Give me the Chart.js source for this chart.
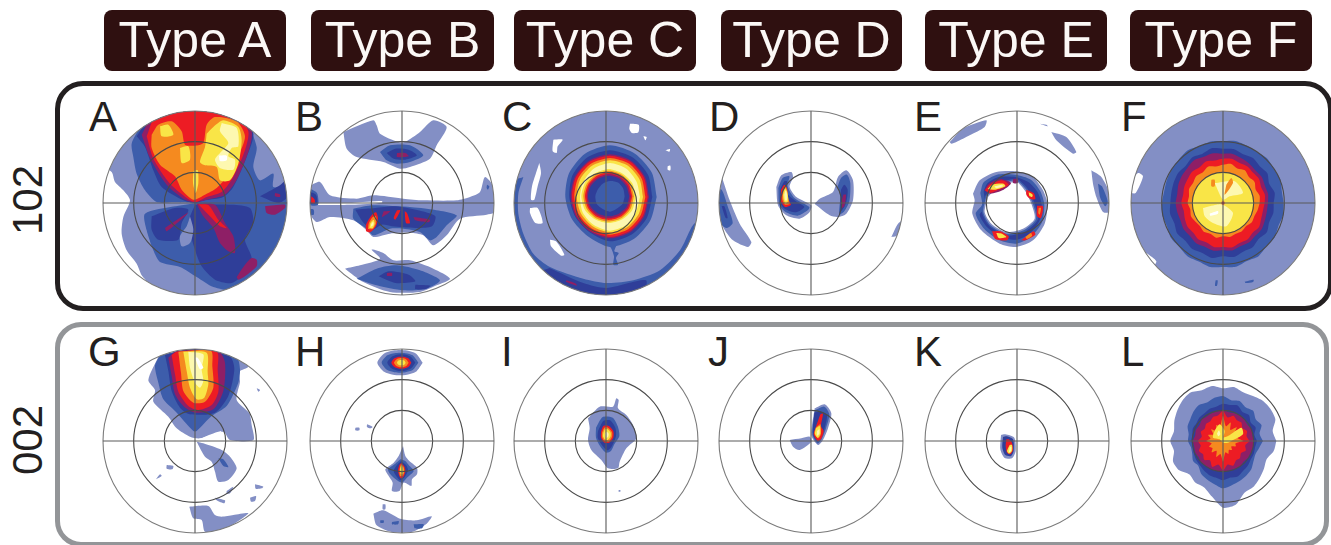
<!DOCTYPE html>
<html>
<head>
<meta charset="utf-8">
<title>Pole figures</title>
<script src="https://cdn.jsdelivr.net/npm/chart.js@4"></script>
<style>
html, body { margin: 0; padding: 0; background: #fff; overflow: hidden; }
#page { position: relative; width: 1331px; height: 545px; overflow: hidden; font-family: "Liberation Sans", Arial, sans-serif; }
.head { position: absolute; top: 10px; height: 61px; line-height: 60px; background: #2f1010; color: #fbf8f6; border-radius: 8px; font-size: 50px; text-align: center; white-space: nowrap; }
.frame { position: absolute; box-sizing: border-box; background: transparent; }
#frame102 { left: 55px; top: 81px; width: 1278px; height: 230px; border: 5px solid #231f20; border-radius: 28px; }
#frame002 { left: 55px; top: 322px; width: 1274px; height: 225px; border: 5px solid #939598; border-radius: 26px; }
.letter { position: absolute; font-size: 42px; line-height: 42px; color: #231f20; }
.row { position: absolute; font-size: 42px; line-height: 42px; color: #231f20; transform: translate(-50%, -50%) rotate(-90deg); }
canvas { position: absolute; filter: blur(0.4px); }
</style>
</head>
<body>
<div id="page">
  <div id="frame102" class="frame"></div>
  <div id="frame002" class="frame"></div>
</div>
<script>
// --- Labels ---
const typeNames = ['Type A', 'Type B', 'Type C', 'Type D', 'Type E', 'Type F'];
const rowNames = ['102', '002'];
const panelLetters = ['A', 'B', 'C', 'D', 'E', 'F', 'G', 'H', 'I', 'J', 'K', 'L'];

// Intensity levels, 0 is blank and 9 the strongest
const levelColors = ['#ffffff', '#838fc5', '#3d5dab', '#2f3e99', '#8e1f66', '#ed1c24', '#f58a1f', '#f9e547', '#fdf8b0', '#ffffff'];

// Radius of the three grid rings, in figure units
const ringRadii = [92, 184, 276];
const disc = [-288, -288, 288, -288, 288, 288, -288, 288];

function ring(cx, cy, radii) {
    const pts = [];
    radii.forEach((r, i) => {
        const a = i / radii.length * Math.PI * 2;
        pts.push(cx + r * Math.cos(a), cy + r * Math.sin(a));
    });
    return pts;
}

// --- Contours, each [level, x,y list] and painted in order ---
const panelA = [
    [1, [288,288, 288,-288, -145,-288, -145,-237, -160,-217, -175,-182, -205,-142, -220,-92, -215,-42, -195,8, -215,38, -240,63, -250,93, -288,120, -288,288]],
    [2, [-165,228, -190,178, -185,138, -175,88, -150,38, -115,3, -60,3, 0,0, -60,-10, -150,-32, -145,-82, -125,-142, -105,-177, -45,-192, 5,-222, 55,-252, 125,-262, 288,-200, 288,48, 235,48, 235,88, 195,68, 175,108, 185,168, 155,238, 90,280, -90,280]],
    [3, [0,-5, 110,-5, 165,-15, 175,-60, 150,-110, 170,-165, 150,-210, 110,-240, 60,-230, 20,-190, 0,-140, -20,-60]],
    [3, [-130,-40, -60,-15, -20,-20, -40,-60, -50,-110, -110,-110, -130,-80]],
    [3, [195,20, 250,50, 278,70, 278,20, 250,0]],
    [1, [-15,-40, -5,-80, -15,-120, -40,-130, -45,-100, -25,-70]],
    [4, [5,-2, 60,-5, 90,-60, 115,-100, 120,-150, 100,-145, 75,-120, 55,-75, 25,-40]],
    [5, [10,-4, 40,-6, 70,-50, 95,-75, 75,-70, 45,-40]],
    [4, [125,-222, 150,-185, 170,-165, 185,-170, 185,-190, 150,-220, 130,-230]],
    [4, [210,-10, 270,-5, 270,-15, 240,-35, 215,-30]],
    [4, [240,30, 255,26, 255,18, 240,20]],
    [4, [-90,-75, -20,-28, -25,-35, -85,-85]],
    [3, [-175,200, -150,168, -125,98, -100,48, -35,8, 0,0, 30,8, 85,18, 115,48, 155,138, 175,208, 135,270, 0,290, -120,275]],
    [4, [-160,205, -135,135, -85,55, -30,10, 0,2, 35,10, 90,25, 125,70, 162,160, 170,215, 130,265, 0,282, -120,270]],
    [5, [-145,200, -125,133, -75,58, -15,8, 3,3, 35,18, 80,33, 115,78, 150,158, 160,215, 125,260, 5,280, -115,265]],
    [6, [-130,205, -130,165, -105,115, -60,80, -40,40, -5,10, 30,25, 65,45, 100,85, 130,140, 150,200, 125,245, 60,258, 35,235, 25,180, 0,172, -30,175, -40,215, -70,245, -110,235]],
    [7, [35,208, 30,168, 15,123, 30,113, 65,108, 75,68, 105,68, 130,118, 140,188, 130,228, 85,248, 55,228]],
    [7, [-45,165, -20,170, -15,130, -40,120]],
    [7, [-105,230, -80,235, -65,205, -100,200]],
    [7, [-5,95, 8,98, 10,60, 2,30, -6,60]],
    [8, [80,240, 125,225, 130,170, 110,165, 100,140, 120,130, 115,100, 75,105, 60,130, 75,150, 100,180, 75,215]],
    [9, [72,142, 95,142, 95,128, 75,126]],
];

const panelB = [
    [1, [-176,213, -86,248, -76,233, -66,208, -11,183, 9,183, 54,213, 94,248, 134,228, 104,173, 84,133, 24,108, -6,103, -56,123, -136,138, -166,163]],
    [2, [-66,153, -36,173, 24,173, 64,143, 24,123, -16,118, -46,128]],
    [3, [-46,150, -20,163, 20,160, 45,143, 10,130, -25,133]],
    [4, [-15,150, 10,150, 20,140, -15,138]],
    [1, [-171,-197, -126,-187, -66,-167, -91,-140, -56,-150, -26,-172, 24,-172, 94,-197, 144,-227, 104,-247, 54,-267, -36,-267, -116,-237]],
    [2, [-136,-227, -76,-197, -16,-187, 54,-202, 114,-232, 74,-257, 4,-262, -76,-247]],
    [3, [-70,-220, -40,-205, 20,-215, 40,-235, -20,-240]],
    [3, [40,-245, 85,-248, 70,-258, 40,-258]],
    [4, [-45,-210, -30,-210, -30,-218, -45,-218]],
    [1, [-274,53, -246,63, -216,23, -136,13, -86,23, 4,13, 64,8, 164,8, 204,18, 234,33, 249,78, 278,43, 278,-27, 254,-35, 174,-47, 134,-97, 94,-127, 64,-97, 24,-89, -36,-92, -86,-102, -106,-82, -146,-52, -216,-42, -256,-57, -278,-27]],
    [0, [-278,1, -150,1, -60,6, -60,1, -150,-5, -278,-5]],
    [2, [-146,-17, -86,-7, 74,-17, 164,-37, 134,-67, 104,-102, 84,-112, 54,-87, 4,-77, -36,-77, -86,-97, -106,-77, -146,-47]],
    [3, [-140,-20, -80,-15, -20,-10, 60,-25, 100,-40, 90,-70, 40,-75, -30,-70, -60,-65, -90,-80, -115,-60]],
    [4, [34,-42, 84,-50, 80,-58, 40,-52]],
    [4, [-55,-25, -35,-25, -60,-42]],
    [5, [-15,-22, -5,-22, -20,-50, -25,-45]],
    [5, [8,-25, 15,-30, 24,-60, 12,-60]],
    [5, [-108,-85, -108,-65, -90,-35, -78,-28, -72,-45, -78,-70, -95,-88]],
    [6, [-102,-78, -100,-62, -88,-42, -78,-40, -78,-62, -88,-78]],
    [7, [-98,-75, -95,-60, -85,-50, -82,-62, -88,-75]],
    [8, [-94,-72, -92,-62, -86,-56, -86,-66]],
    [2, [-278,45, -255,30, -252,-5, -278,-5]],
    [3, [-278,35, -258,25, -255,0, -278,0]],
    [5, [-272,20, -262,10, -262,0, -272,0]],
    [2, [-278,-18, -265,-20, -265,-35, -278,-35]],
    [2, [255,55, 262,50, 258,40, 254,45]],
];

const panelC = [
    [1, disc],
    [0, [72,238, 98,235, 97,212, 78,210, 70,222]],
    [0, [112,200, 122,198, 118,188]],
    [0, [178,158, 192,162, 190,154]],
    [0, [185,110, 193,112, 193,98, 185,100]],
    [0, [-158,190, -130,190, -145,170, -148,150, -160,155]],
    [0, [-200,120, -195,90, -205,50, -215,10, -225,10, -222,50, -210,90]],
    [0, [-228,-15, -205,-15, -190,-60, -212,-60, -228,-30]],
    [0, [-168,-110, -150,-115, -125,-155, -135,-158, -165,-130]],
    [2, [-248,78, -263,28, -263,-32, -248,-92, -218,-152, -168,-192, -68,-227, 2,-240, 82,-232, 162,-202, 222,-142, 257,-72, 272,-57, 288,-100, 288,-288, -288,-288, -288,60]],
    [3, [-170,-195, -68,-240, 2,-255, 120,-232, 100,-288, -60,-288, -200,-210]],
    [4, [-118,-232, -90,-242, -88,-248, -120,-236]],
    [2, ring(12, 18, [140,145,150,155,150,142,134,132,135,150,145,140])],
    [2, [35,-120, 25,-145, 38,-150, 30,-165, 36,-185, 22,-185, 24,-160, 15,-135, 5,-120]],
    [3, ring(12, 18, [127,132,137,140,137,130,122,120,122,133,130,127])],
    [4, ring(12, 18, [117,121,126,128,126,122,118,118,120,124,122,118])],
    [5, ring(12, 18, [113,117,122,124,122,118,114,114,116,120,118,114])],
    [6, ring(12, 18, [106,110,115,117,115,111,107,107,109,113,111,107])],
    [7, ring(12, 18, [99,103,108,110,108,104,100,100,102,106,104,100])],
    [8, ring(12, 18, [90,92,98,102,98,92,90,94,97,101,97,90])],
    [7, ring(8, 20, [82,81,80,82,80,82,82,82,80,80,80,82])],
    [6, ring(8, 20, [76,76,76,77,76,76,76,76,76,76,76,76])],
    [5, ring(8, 20, [71,71,71,72,71,71,71,71,71,71,71,71])],
    [4, ring(8, 20, [67,66,67,67,66,67,66,67,66,66,66,67])],
    [3, ring(8, 20, [62,61,62,62,61,62,62,62,60,60,60,62])],
    [2, ring(12, 20, [44,46,48,46,44,42,44,46,44,46,42,44])],
];

const panelD = [
    [1, [-269,83, -244,8, -214,-62, -179,-117, -189,-132, -234,-112, -264,-72, -288,-2, -288,80]],
    [2, [-288,40, -268,40, -250,-10, -235,-60, -255,-75, -288,-40]],
    [3, [-268,-10, -260,-10, -250,-45, -256,-45]],
    [1, [241,-102, 261,-62, 278,-52, 278,-80, 255,-100]],
    [1, [-104,48, -89,83, -59,93, -54,78, -64,48, -44,18, 1,-7, -4,-27, -34,-47, -74,-37, -99,-7]],
    [2, [-98,45, -85,75, -65,80, -70,50, -50,15, -5,-12, -10,-22, -40,-38, -75,-28, -95,-5]],
    [3, [-92,42, -80,65, -72,65, -72,30, -45,5, -20,-12, -45,-28, -78,-18, -92,0]],
    [5, [-90,40, -80,55, -72,45, -68,10, -60,-5, -78,-12, -90,5]],
    [6, [-85,35, -78,52, -72,40, -68,12, -64,-3, -78,-5, -86,10]],
    [7, [-84,25, -78,45, -72,35, -68,8, -76,-2, -82,10]],
    [8, [-80,25, -76,38, -72,28, -72,8, -78,8]],
    [1, [11,-2, 26,13, 66,33, 81,78, 106,98, 126,68, 126,8, 106,-32, 81,-42, 56,-37, 16,-7]],
    [2, [80,50, 90,75, 108,85, 118,60, 115,5, 100,-25, 85,-35, 86,-5, 88,20]],
    [3, [90,40, 100,55, 110,40, 105,0, 90,-25, 88,0]],
    [4, [97,25, 105,25, 100,-10, 93,-15, 92,5]],
];

const panelE = [
    [1, [-202,183, -162,223, -92,248, -97,228, -142,203, -182,183, -197,178]],
    [1, [68,238, 93,230, 88,235]],
    [1, [103,213, 148,198, 178,153, 168,148, 118,188]],
    [1, [223,98, 253,78, 278,28, 278,-27, 258,-27, 238,18, 228,58]],
    [2, [243,58, 255,50, 272,5, 265,-10, 250,15]],
    [1, [-132,28, -112,68, -62,93, -2,95, 48,78, 78,38, 91,-2, 83,-62, 48,-112, -2,-132, -52,-122, -107,-82, -134,-32, -127,8]],
    [2, [-110,30, -100,62, -60,85, -5,85, 42,70, 70,35, 82,-5, 75,-58, 42,-102, -2,-122, -52,-112, -98,-78, -124,-32, -105,-5]],
    [3, [-100,35, -90,58, -55,78, -5,78, 35,62, 62,32, 74,-5, 68,-52, 38,-92, -2,-110, -50,-102, -90,-72, -112,-35, -95,-15]],
    [2, [-95,22, -60,58, -2,72, 30,45, 52,0, 62,-50, 22,-87, -32,-97, -82,-70, -105,-28]],
    [1, [-92,20, -59,53, -2,67, 27,41, 47,-1, 57,-48, 20,-82, -32,-92, -80,-66, -101,-27]],
    [0, [-87,18, -57,48, -2,63, 23,38, 43,-2, 53,-47, 18,-77, -32,-87, -77,-62, -97,-27]],
    [4, [-98,38, -85,58, -50,72, -18,60, -40,40, -80,28]],
    [5, [-96,38, -82,55, -45,68, -25,55, -50,42, -82,30]],
    [7, [-88,42, -75,55, -40,58, -35,50, -65,40]],
    [8, [-68,50, -45,55, -42,50, -62,44]],
    [5, [28,40, 50,30, 55,12, 40,12, 28,25]],
    [7, [35,32, 47,25, 45,18, 37,22]],
    [5, [60,-8, 78,-10, 72,-45, 60,-40]],
    [6, [65,-15, 72,-15, 68,-35, 64,-30]],
    [5, [-75,-85, -50,-85, -25,-100, -30,-112, -65,-108]],
    [7, [-62,-90, -45,-92, -32,-102, -55,-105]],
    [5, [13,-112, 50,-85, 55,-95, 25,-112]],
    [6, [25,-102, 42,-90, 45,-98, 30,-108]],
    [4, [-12,72, 2,72, 2,60, -12,60]],
];

const panelF = [
    [1, disc],
    [0, [-278,30, -262,30, -240,80, -255,90, -278,60]],
    [0, [-230,-150, -200,-175, -215,-195, -240,-170]],
    [2, [-22,-232, -16,-232, -18,-248, -24,-248]],
    [2, [65,-236, 92,-230, 90,-237, 68,-240]],
    [2, ring(0, 0, [182,180,186,184,188,184,186,190,186,188,184,190,186,184,182,180,183,186,182,188,186,192,190,196,192,195,188,192,184,186,180,184])],
    [3, ring(0, 0, [152,158,150,160,156,162,158,165,163,168,160,165,158,162,160,158,158,162,158,165,160,166,162,168,160,165,158,160,152,158,150,154])],
    [4, ring(0, 0, [135,138,136,140,138,142,145,150,148,152,150,155,150,148,145,140,142,140,138,142,140,145,142,146,142,145,140,142,138,140,136,134])],
    [5, ring(0, 0, [125,128,124,130,128,132,130,135,133,130,135,128,132,128,126,122,125,120,124,128,126,132,128,135,132,136,130,132,126,130,124,122])],
    [6, ring(0, 0, [110,112,106,114,110,118,112,120,115,112,118,110,114,108,110,104,106,100,104,100,98,104,100,106,100,104,100,102,98,104,102,106])],
    [7, ring(0, 0, [92,92,91,92,92,92,91,92,92,91,92,92])],
    [8, [-60,-15, -20,-5, 0,-5, 30,-30, 10,-70, -30,-60, -55,-40]],
    [8, [-25,60, 0,10, 20,20, 60,30, 35,65]],
    [9, [-40,-32, -15,-24, -15,-32, -38,-38]],
    [6, [-35,70, -25,70, -25,50, -35,50]],
    [6, [10,55, 25,75, 30,60, 5,25]],
    [5, [-4,4, 4,4, 4,-4, -4,-4]],
];

const panelG = [
    [1, [-110,253, -140,183, -120,153, -125,118, -80,73, -55,38, -15,13, 15,8, 85,28, 105,3, 175,3, 170,48, 163,83, 125,123, 135,178, 133,208, 160,223, 115,253, 0,278]],
    [1, [5,-2, 30,-47, 50,-62, 60,-92, 70,-122, 100,-117, 125,-82, 105,-47, 80,-27, 25,-7]],
    [1, [-17,-197, 40,-195, 60,-222, 80,-227, 115,-222, 160,-217, 105,-257, 85,-267, 30,-272, 20,-237, -5,-232]],
    [1, [-85,-72, -65,-75, -68,-85, -85,-83]],
    [1, [-117,-115, -100,-105, -105,-100, -115,-112]],
    [1, [180,-130, 205,-137, 200,-142, 182,-143]],
    [1, [165,-170, 183,-165, 180,-180, 168,-182]],
    [1, [95,-150, 115,-137, 105,-157, 95,-158]],
    [1, [60,-170, 90,-178, 88,-187, 65,-178]],
    [1, [185,158, 195,153, 190,148]],
    [2, [70,-52, 85,-55, 100,-78, 85,-75]],
    [2, [-105,258, -120,225, -110,175, -95,125, -60,90, -5,30, 5,30, 50,75, 95,105, 130,175, 135,215, 125,250, 0,276]],
    [0, [10,5, 60,25, 80,30, 55,10, 20,3]],
    [3, [-90,258, -80,210, -70,150, -45,100, -15,80, 60,85, 100,135, 118,215, 105,253, 0,276]],
    [4, [-80,250, -70,195, -60,140, -35,105, 0,85, 55,95, 85,150, 90,235, 70,270, -55,270]],
    [5, [-70,258, -60,200, -50,148, -20,105, 10,93, 50,108, 70,148, 68,215, 65,268, -55,268]],
    [6, [-50,268, -42,205, -35,150, -5,115, 30,118, 55,160, 52,225, 48,270]],
    [7, [-35,268, -25,210, -15,160, 5,125, 28,130, 40,170, 38,205, 35,265]],
    [8, [-20,268, -15,220, 0,175, 15,160, 25,180, 20,215, 25,260]],
    [9, [0,250, 8,250, 25,220, 15,215]],
];

const panelH = [
    [1, ring(-6, 235, [68,55,42,38,42,55,68,55,42,38,42,55])],
    [2, ring(-6, 235, [55,44,33,30,33,44,55,44,33,30,33,44])],
    [3, ring(-2, 235, [42,34,27,25,27,34,42,34,27,25,27,34])],
    [5, ring(-2, 235, [30,25,20,18,20,25,30,25,20,18,20,25])],
    [6, ring(-2, 235, [22,18,15,14,15,18,22,18,15,14,15,18])],
    [7, ring(-2, 235, [13,11,9,8,9,11,13,11,9,8,9,11])],
    [1, [3,-15, 10,-45, 22,-60, 45,-80, 45,-100, 30,-115, 28,-135, 5,-125, -8,-150, -30,-150, -28,-125, -40,-105, -50,-85, -25,-65, -10,-45]],
    [2, [-5,-55, 10,-60, 20,-72, 35,-90, 15,-110, 0,-125, -15,-118, -35,-100, -42,-85, -20,-68]],
    [3, [-3,-60, 12,-72, 18,-88, 8,-108, -5,-118, -15,-108, -25,-90, -15,-72]],
    [5, [-2,-65, 8,-78, 10,-92, 4,-108, -4,-112, -10,-100, -12,-88, -8,-72]],
    [6, [-3,-68, 5,-78, 7,-92, 2,-105, -6,-105, -8,-88]],
    [7, [-2,-72, 3,-80, 4,-95, 0,-100, -4,-98, -6,-85]],
    [1, [-86,-218, -56,-208, -6,-233, 44,-238, 89,-226, 74,-248, 29,-273, -31,-273, -76,-253]],
    [2, [-65,-238, -55,-238, -55,-245, -65,-245]],
    [2, [-30,-243, -10,-240, -12,-250, -30,-250]],
    [2, [35,-250, 65,-250, 60,-262, 38,-262]],
    [1, [-58,-190, -50,-190, -50,-205, -58,-205]],
    [1, [-140,40, -128,40, -128,32, -140,32]],
    [1, [-105,50, -88,42, -95,38, -105,42]],
];

const panelI = [
    [1, [-54,68, -19,103, 21,103, 31,128, 38,123, 36,98, 61,78, 81,48, 91,8, 61,-22, 41,-62, 36,-82, 6,-82, -14,-57, -44,-27, -54,3, -49,38]],
    [1, [38,-147, 43,-147, 43,-152, 38,-152]],
    [2, [-30,40, -10,72, 20,70, 35,45, 40,15, 25,-10, 15,-30, 0,-35, -18,-15, -30,10]],
    [3, [-24,30, -8,60, 12,62, 28,40, 30,15, 18,-15, 5,-28, -10,-15, -25,10]],
    [5, [-15,28, -8,45, 8,45, 22,30, 22,10, 10,-5, -5,-5, -15,10]],
    [6, [-12,25, -5,40, 6,40, 18,27, 18,12, 8,-2, -5,0, -12,12]],
    [7, [-8,25, -3,35, 5,35, 14,25, 13,12, 5,3, -4,5, -9,14]],
    [8, [-3,22, 2,28, 8,22, 6,12, 0,10]],
];

const panelJ = [
    [1, [-64,3, -29,8, -4,13, 1,-2, -34,-27, -54,-17]],
    [1, [11,98, 41,110, 61,83, 51,38, 36,3, 21,-12, 1,18]],
    [2, [12,92, 40,103, 55,80, 45,38, 32,5, 20,-8, 4,20]],
    [3, [10,85, 30,88, 48,78, 40,35, 28,5, 20,-2, 6,22]],
    [5, [28,80, 36,82, 30,45, 38,30, 30,5, 20,0, 8,20, 14,40]],
    [6, [14,40, 28,50, 30,22, 22,8, 10,22]],
    [7, [15,38, 26,45, 28,22, 20,10, 12,22]],
    [8, [18,30, 25,35, 25,22, 18,16]],
];

const panelK = [
    [1, [-48,18, -35,20, -8,10, -4,-30, -15,-52, -38,-50, -50,-25]],
    [3, [-42,12, -30,14, -12,5, -10,-30, -18,-45, -35,-42, -44,-20]],
    [5, [-32,5, -25,5, -15,-5, -12,-28, -20,-40, -30,-35, -34,-15]],
    [7, [-22,-12, -15,-12, -15,-30, -24,-38, -30,-30]],
    [8, [-22,-18, -17,-18, -18,-30, -24,-34]],
];

const panelL = [
    [1, ring(0, 0, [160,152,170,172,170,162,158,165,158,168,165,175,172,165,158,150,158,150,162,158,142,150,150,170,200,195,168,165,156,148,142,155])],
    [2, ring(0, 0, [120,112,125,118,128,122,130,125,135,132,125,130,125,118,115,105,105,98,100,108,105,118,125,132,142,135,130,125,120,110,105,110])],
    [3, ring(0, 0, [102,96,106,100,110,105,115,110,112,105,105,100,100,96,98,94,95,92,95,98,100,105,110,112,118,112,115,108,105,100,100,98])],
    [4, ring(0, 0, [92,90,92,88,90,92,90,88,92,90,90,88,90,85,88,85,90,88,90,88,92,90,92,92,92,90,90,92,88,90,90,92])],
    [5, ring(0, 0, [80,72,78,70,78,75,82,72,90,78,78,70,72,66,72,65,75,68,78,72,80,70,84,72,88,72,80,70,72,65,74,68])],
    [6, ring(0, 0, [62,45,55,42,58,40,60,45,75,45,52,38,50,35,48,38,50,35,45,38,48,35,52,40,62,35,42,32,38,30,42,38])],
    [7, [0,10, 15,15, 55,40, 60,20, 25,0, 15,-5, 0,-5, -10,5, -30,10, -25,30, -10,50, 5,30]],
    [8, [-18,22, -12,32, -8,20, -14,14]],
];

const panels = [panelA, panelB, panelC, panelD, panelE, panelF, panelG, panelH, panelI, panelJ, panelK, panelL];

// --- Layout ---
const page = document.getElementById('page');
const headLeft = [104, 311, 514, 721, 925, 1130];
const headWidth = [182, 183, 182, 181, 182, 182];
const centreX = [195, 402, 606, 811, 1017, 1223];
const centreY = [203, 441];
const letterX = [89, 295, 502, 709, 914, 1121, 88, 295, 501, 708, 914, 1121];
const letterTop = [96, 331];
const rowLabelY = [200, 440];
const CANVAS_SIZE = 192;
const AXIS_MAX = 288;

typeNames.forEach((name, i) => {
    const el = document.createElement('div');
    el.className = 'head';
    el.textContent = name;
    el.style.left = headLeft[i] + 'px';
    el.style.width = headWidth[i] + 'px';
    page.appendChild(el);
});

rowNames.forEach((name, i) => {
    const el = document.createElement('div');
    el.className = 'row';
    el.textContent = name;
    el.style.left = '28px';
    el.style.top = rowLabelY[i] + 'px';
    page.appendChild(el);
});

// Keeps contours inside the outer ring, then draws the rings and cross on top
const poleGrid = {
    id: 'poleGrid',
    beforeDatasetsDraw(chart) {
        const { ctx, scales: { x, y } } = chart;
        ctx.save();
        ctx.beginPath();
        ctx.arc(x.getPixelForValue(0), y.getPixelForValue(0), x.getPixelForValue(276) - x.getPixelForValue(0), 0, Math.PI * 2);
        ctx.clip();
    },
    afterDatasetsDraw(chart) {
        const { ctx, scales: { x, y } } = chart;
        ctx.restore();
        ctx.save();
        ctx.lineWidth = 1.1;
        ringRadii.forEach(r => {
            ctx.strokeStyle = r === 276 ? '#7a7a7a' : '#4a4a4a';
            ctx.beginPath();
            ctx.arc(x.getPixelForValue(0), y.getPixelForValue(0), x.getPixelForValue(r) - x.getPixelForValue(0), 0, Math.PI * 2);
            ctx.stroke();
        });
        ctx.strokeStyle = '#5a5a5a';
        ctx.beginPath();
        ctx.moveTo(x.getPixelForValue(-276), y.getPixelForValue(0));
        ctx.lineTo(x.getPixelForValue(276), y.getPixelForValue(0));
        ctx.moveTo(x.getPixelForValue(0), y.getPixelForValue(276));
        ctx.lineTo(x.getPixelForValue(0), y.getPixelForValue(-276));
        ctx.stroke();
        ctx.restore();
    }
};

function toPoints(flat) {
    const pts = [];
    for (let i = 0; i < flat.length; i += 2) {
        pts.push({ x: flat[i], y: flat[i + 1] });
    }
    pts.push({ x: flat[0], y: flat[1] }); // close the contour
    return pts;
}

panels.forEach((layers, index) => {
    const col = index % 6;
    const row = Math.floor(index / 6);

    const letter = document.createElement('div');
    letter.className = 'letter';
    letter.textContent = panelLetters[index];
    letter.style.left = letterX[index] + 'px';
    letter.style.top = letterTop[row] + 'px';
    page.appendChild(letter);

    const canvas = document.createElement('canvas');
    canvas.width = CANVAS_SIZE;
    canvas.height = CANVAS_SIZE;
    canvas.style.left = (centreX[col] - CANVAS_SIZE / 2) + 'px';
    canvas.style.top = (centreY[row] - CANVAS_SIZE / 2) + 'px';
    page.appendChild(canvas);

    new Chart(canvas.getContext('2d'), {
        type: 'scatter',
        data: {
            datasets: layers.map(([level, flat], i) => ({
                data: toPoints(flat),
                showLine: true,
                fill: 'shape',
                backgroundColor: levelColors[level],
                borderWidth: 0,
                pointRadius: 0,
                tension: 0.25,
                order: layers.length - i
            }))
        },
        options: {
            responsive: false,
            animation: false,
            events: [],
            layout: { padding: 0 },
            plugins: { legend: { display: false }, tooltip: { enabled: false }, title: { display: false } },
            scales: {
                x: { type: 'linear', min: -AXIS_MAX, max: AXIS_MAX, display: false },
                y: { type: 'linear', min: -AXIS_MAX, max: AXIS_MAX, display: false }
            }
        },
        plugins: [poleGrid]
    });
});
</script>
</body>
</html>
